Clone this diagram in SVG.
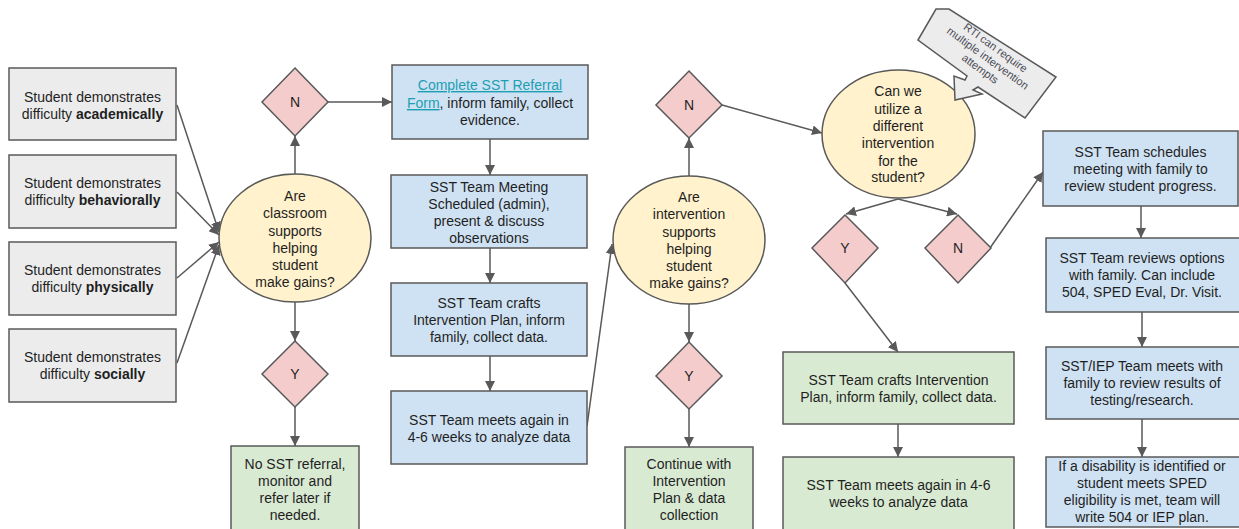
<svg xmlns="http://www.w3.org/2000/svg" width="1239" height="529" viewBox="0 0 1239 529">
<defs>
<marker id="ah" viewBox="0 0 10 10" refX="10" refY="5" markerWidth="10" markerHeight="10" markerUnits="userSpaceOnUse" orient="auto">
<path d="M0,0 L10,5 L0,10 z" fill="#595959"/>
</marker>
<style>
text{font-family:"Liberation Sans",Arial,sans-serif;font-size:14px;fill:#1f1f1f;text-anchor:middle}
.b{font-weight:bold}
.gray{fill:#ececec;stroke:#595959;stroke-width:1.5}
.blue{fill:#cfe2f3;stroke:#595959;stroke-width:1.5}
.green{fill:#d9ead3;stroke:#595959;stroke-width:1.5}
.yel{fill:#fff2cc;stroke:#595959;stroke-width:1.5}
.pink{fill:#f4cccc;stroke:#595959;stroke-width:1.5}
.c line{stroke:#595959;stroke-width:1.5;marker-end:url(#ah)}
.lnk{fill:#1c9fb3;text-decoration:underline}
.note{font-size:11px;fill:#4a4a55}
</style>
</defs>
<rect width="1239" height="529" fill="#ffffff"/>

<g class="c" id="connectors">
<line x1="177" y1="105" x2="219" y2="232"/>
<line x1="177" y1="192" x2="219" y2="235"/>
<line x1="177" y1="278" x2="219" y2="242"/>
<line x1="177" y1="363" x2="219" y2="245"/>
<line x1="295" y1="174" x2="295" y2="136"/>
<line x1="328" y1="102" x2="392" y2="102"/>
<line x1="295" y1="302" x2="295" y2="341"/>
<line x1="295" y1="407" x2="295" y2="446"/>
<line x1="490" y1="139" x2="490" y2="175"/>
<line x1="490" y1="248" x2="490" y2="283"/>
<line x1="490" y1="356" x2="490" y2="391"/>
<line x1="587" y1="426" x2="612" y2="244"/>
<line x1="689" y1="176" x2="689" y2="138"/>
<line x1="689" y1="304" x2="689" y2="342"/>
<line x1="689" y1="409" x2="689" y2="447"/>
<line x1="722" y1="105" x2="822" y2="133"/>
<line x1="898" y1="199" x2="846" y2="214"/>
<line x1="898" y1="199" x2="957" y2="214"/>
<line x1="845" y1="283" x2="898" y2="352"/>
<line x1="990" y1="248" x2="1043" y2="172"/>
<line x1="1141" y1="206" x2="1141" y2="238"/>
<line x1="1142" y1="312" x2="1142" y2="347"/>
<line x1="1142" y1="419" x2="1142" y2="457"/>
<line x1="898" y1="424" x2="898" y2="457"/>
</g>

<g id="start-academic"><rect class="gray" x="9" y="68" width="167" height="72"/>
<text x="92.5" y="101.5">Student demonstrates</text><text x="92.5" y="118.5">difficulty <tspan class="b">academically</tspan></text></g>
<g id="start-behavior"><rect class="gray" x="9" y="155" width="167" height="73"/>
<text x="92.5" y="188">Student demonstrates</text><text x="92.5" y="205">difficulty <tspan class="b">behaviorally</tspan></text></g>
<g id="start-physical"><rect class="gray" x="9" y="242" width="167" height="73"/>
<text x="92.5" y="275">Student demonstrates</text><text x="92.5" y="292">difficulty <tspan class="b">physically</tspan></text></g>
<g id="start-social"><rect class="gray" x="9" y="329" width="167" height="73"/>
<text x="92.5" y="362">Student demonstrates</text><text x="92.5" y="379">difficulty <tspan class="b">socially</tspan></text></g>

<g id="q1"><ellipse class="yel" cx="295" cy="238" rx="76" ry="64"/>
<text x="295" y="201">Are</text><text x="295" y="218">classroom</text><text x="295" y="235.5">supports</text><text x="295" y="253">helping</text><text x="295" y="270">student</text><text x="295" y="287">make gains?</text></g>
<g id="q1-n"><polygon class="pink" points="295,68 328,102 295,136 262,102"/><text x="295" y="107">N</text></g>
<g id="q1-y"><polygon class="pink" points="295,341 328,374 295,407 262,374"/><text x="295" y="379">Y</text></g>
<g id="no-referral"><rect class="green" x="231" y="446" width="128" height="90"/>
<text x="295" y="469">No SST referral,</text><text x="295" y="486">monitor and</text><text x="295" y="503">refer later if</text><text x="295" y="520">needed.</text></g>

<g id="referral"><rect class="blue" x="392" y="65" width="196" height="74"/>
<text x="490" y="90"><tspan class="lnk">Complete SST Referral</tspan></text>
<text x="490" y="108"><tspan class="lnk">Form</tspan>, inform family, collect</text>
<text x="490" y="125">evidence.</text></g>
<g id="meeting"><rect class="blue" x="391" y="175" width="196" height="73"/>
<text x="489" y="192">SST Team Meeting</text><text x="489" y="209">Scheduled (admin),</text><text x="489" y="226">present &amp; discuss</text><text x="489" y="243">observations</text></g>
<g id="crafts1"><rect class="blue" x="391" y="283" width="196" height="73"/>
<text x="489" y="308">SST Team crafts</text><text x="489" y="325">Intervention Plan, inform</text><text x="489" y="342">family, collect data.</text></g>
<g id="meets1"><rect class="blue" x="391" y="391" width="196" height="73"/>
<text x="489" y="425">SST Team meets again in</text><text x="489" y="442">4-6 weeks to analyze data</text></g>

<g id="q2"><ellipse class="yel" cx="689" cy="240" rx="76" ry="64"/>
<text x="689" y="202">Are</text><text x="689" y="219">intervention</text><text x="689" y="237">supports</text><text x="689" y="254">helping</text><text x="689" y="271">student</text><text x="689" y="288">make gains?</text></g>
<g id="q2-n"><polygon class="pink" points="689,71 722,105 689,138 656,105"/><text x="689" y="110">N</text></g>
<g id="q2-y"><polygon class="pink" points="689,342 722,376 689,409 656,376"/><text x="689" y="381">Y</text></g>
<g id="continue"><rect class="green" x="625" y="447" width="128" height="90"/>
<text x="689" y="469">Continue with</text><text x="689" y="486">Intervention</text><text x="689" y="503">Plan &amp; data</text><text x="689" y="520">collection</text></g>

<g id="q3"><ellipse class="yel" cx="898.5" cy="134" rx="76.5" ry="64"/>
<text x="898" y="96">Can we</text><text x="898" y="114">utilize a</text><text x="898" y="131">different</text><text x="898" y="148">intervention</text><text x="898" y="166">for the</text><text x="898" y="182">student?</text></g>
<g id="rti-note"><polygon class="gray" stroke-width="1.2" points="918,40 936,9 949,9 1056,77 1025,118 978,87 973,90 982,94 955,100 954,76 965,80 967,76"/>
<g transform="translate(988,58) rotate(36)"><text class="note" x="0" y="-9">RTI can require</text><text class="note" x="0" y="4">multiple intervention</text><text class="note" x="0" y="17">attempts</text></g></g>
<g id="q3-y"><polygon class="pink" points="845,215 878,248 845,283 812,248"/><text x="845" y="253">Y</text></g>
<g id="q3-n"><polygon class="pink" points="958,215 991,248 958,283 925,248"/><text x="958" y="253">N</text></g>
<g id="crafts2"><rect class="green" x="783" y="352" width="231" height="72"/>
<text x="898.5" y="385">SST Team crafts Intervention</text><text x="898.5" y="402">Plan, inform family, collect data.</text></g>
<g id="meets2"><rect class="green" x="783" y="457" width="231" height="80"/>
<text x="898.5" y="490">SST Team meets again in 4-6</text><text x="898.5" y="507">weeks to analyze data</text></g>

<g id="schedules"><rect class="blue" x="1043" y="131" width="195" height="75"/>
<text x="1140.5" y="157">SST Team schedules</text><text x="1140.5" y="174">meeting with family to</text><text x="1140.5" y="191">review student progress.</text></g>
<g id="options"><rect class="blue" x="1046" y="238" width="196" height="74"/>
<text x="1142" y="263">SST Team reviews options</text><text x="1142" y="280">with family. Can include</text><text x="1142" y="297">504, SPED Eval, Dr. Visit.</text></g>
<g id="iep-meet"><rect class="blue" x="1046" y="347" width="196" height="72"/>
<text x="1142" y="371">SST/IEP Team meets with</text><text x="1142" y="388">family to review results of</text><text x="1142" y="405">testing/research.</text></g>
<g id="plan"><rect class="blue" x="1046" y="457" width="196" height="70"/>
<text x="1142" y="471">If a disability is identified or</text><text x="1142" y="488">student meets SPED</text><text x="1142" y="505">eligibility is met, team will</text><text x="1142" y="522">write 504 or IEP plan.</text></g>
</svg>
